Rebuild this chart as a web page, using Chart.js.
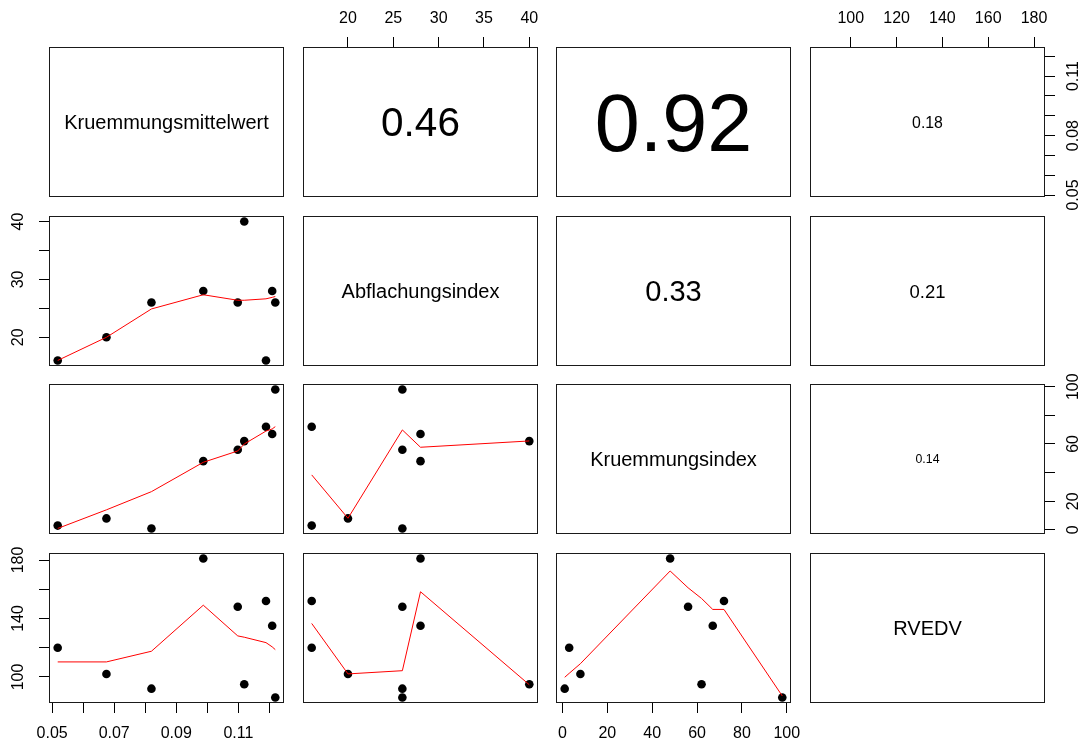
<!DOCTYPE html>
<html><head><meta charset="utf-8">
<script src="https://cdn.jsdelivr.net/npm/chart.js@4"></script>
<style>
html,body{margin:0;padding:0;background:#fff;}
#wrap{position:relative;width:1089px;height:745px;overflow:hidden;background:#fff;}
#wrap canvas{position:absolute;left:0;top:0;}
</style></head><body><div id="wrap"></div>
<script>
// ---- data ----
const variables = ['Kruemmungsmittelwert', 'Abflachungsindex', 'Kruemmungsindex', 'RVEDV'];
const kruemmungsmittelwert = [0.0518, 0.0675, 0.0820, 0.0987, 0.1098, 0.1119, 0.1189, 0.1209, 0.1219];
const abflachungsindex     = [16, 20, 26, 28, 26, 40, 16, 28, 26];
const kruemmungsindex      = [3, 8, 1, 48, 56, 62, 72, 67, 98];
const rvedv                = [120, 102, 92, 181, 148, 95, 152, 135, 86];

// correlation values shown in the upper panels (row, col order)
const corPairs  = [[0,1],[0,2],[0,3],[1,2],[1,3],[2,3]];
const corValues = [0.46, 0.92, 0.18, 0.33, 0.21, 0.14];

// smoother (red line) vertices
const smoothKrmX  = [0.0518, 0.0675, 0.0820, 0.0987, 0.1098, 0.1119, 0.1189, 0.1209, 0.1219];
const smoothAbflX = [16, 20, 26, 28, 40];
const smoothKriX  = [1, 3, 8, 48, 56, 62, 67, 72, 98];
const smoothAbflOnKrm = [16.0, 20.0, 24.9, 27.35, 26.4, 26.4, 26.65, 26.9, 27.05];
const smoothKriOnKrm  = [1.0, 14.0, 26.7, 47.2, 55.1, 60.0, 69.0, 70.5, 72.1];
const smoothRvOnKrm   = [110.3, 110.3, 117.6, 149.1, 128.1, 127.2, 123.5, 120.6, 118.7];
const smoothKriOnAbfl = [38.4, 8.1, 69.8, 57.7, 62.1];
const smoothRvOnAbfl  = [136.6, 102.1, 104.3, 158.3, 94.7];
const smoothRvOnKri   = [99.8, 102.5, 109.1, 172.5, 161.0, 153.7, 146.2, 146.2, 87.0];

// tick values and labels
const krmTicks  = [0.05, 0.06, 0.07, 0.08, 0.09, 0.10, 0.11, 0.12];
const krmBottomLabels = ['0.05', '', '0.07', '', '0.09', '', '0.11', ''];
const krmRightLabels  = ['0.05', '', '', '0.08', '', '', '0.11', ''];
const abflTicks = [20, 25, 30, 35, 40];
const abflTopLabels  = ['20', '25', '30', '35', '40'];
const abflLeftLabels = ['20', '', '30', '', '40'];
const kriTicks  = [0, 20, 40, 60, 80, 100];
const kriBottomLabels = ['0', '20', '40', '60', '80', '100'];
const kriRightLabels  = ['0', '20', '', '60', '', '100'];
const rvTicks   = [100, 120, 140, 160, 180];
const rvTopLabels  = ['100', '120', '140', '160', '180'];
const rvLeftLabels = ['100', '', '140', '', '180'];

// ---- assembly ----
const seriesList = [kruemmungsmittelwert, abflachungsindex, kruemmungsindex, rvedv];
const tickList   = [krmTicks, abflTicks, kriTicks, rvTicks];
const xLabelList = [krmBottomLabels, abflTopLabels, kriBottomLabels, rvTopLabels];
const yLabelList = [krmRightLabels, abflLeftLabels, kriRightLabels, rvLeftLabels];
const smoothX = [smoothKrmX, smoothAbflX, smoothKriX];
const smoothMap = {
  '1,0': smoothAbflOnKrm, '2,0': smoothKriOnKrm, '3,0': smoothRvOnKrm,
  '2,1': smoothKriOnAbfl, '3,1': smoothRvOnAbfl, '3,2': smoothRvOnKri
};

const W = 1089, H = 745;
const colLeft = [49, 303, 556, 810], rowTop = [47, 216, 384, 553];
const PW = 235, PH = 150, AX = 40, TL = 10;
const FONT = '"Liberation Sans", Arial, Helvetica, sans-serif';
Chart.defaults.font.family = FONT;
Chart.defaults.font.size = 16;
Chart.defaults.color = '#000';

const mctx = document.createElement('canvas').getContext('2d');
mctx.font = '16px ' + FONT;
const widest = labels => Math.max(...labels.map(l => mctx.measureText(l).width));

function limits(a) {
  const mn = Math.min(...a), mx = Math.max(...a), d = (mx - mn) * 0.04;
  return [mn - d, mx + d];
}

const decor = {
  id: 'decor',
  afterDraw(chart, args, o) {
    const {ctx, chartArea: a} = chart;
    ctx.save();
    ctx.strokeStyle = '#1a1a1a';
    ctx.lineWidth = 1;
    ctx.strokeRect(Math.round(a.left) + 0.5, Math.round(a.top) + 0.5,
                   Math.round(a.right - a.left) - 1, Math.round(a.bottom - a.top) - 1);
    if (o.text) {
      ctx.fillStyle = '#000';
      ctx.font = o.size + 'px ' + FONT;
      ctx.textAlign = 'center';
      ctx.textBaseline = 'alphabetic';
      ctx.fillText(o.text, (a.left + a.right) / 2, (a.top + a.bottom) / 2 + 0.358 * o.size);
    }
    ctx.restore();
  }
};

function axisCfg(isX, show, pos, ticks, labels, lim) {
  const cfg = {
    type: 'linear', display: show, position: pos, min: lim[0], max: lim[1],
    afterBuildTicks: s => { s.ticks = ticks.map(v => ({value: v})); },
    afterFit: s => { const sz = show ? AX : 0; if (isX) s.height = sz; else s.width = sz; },
    border: {display: false},
    grid: {display: show, drawOnChartArea: false, drawTicks: true, tickLength: TL, color: '#000', lineWidth: 1},
    ticks: {display: show, autoSkip: false, color: '#000', font: {size: 16, family: FONT},
            callback: (v, idx) => labels[idx]}
  };
  if (isX) {
    cfg.ticks.maxRotation = 0; cfg.ticks.minRotation = 0;
    cfg.ticks.padding = pos === 'top' ? 9 : 11;
  } else {
    cfg.ticks.minRotation = 90; cfg.ticks.maxRotation = 90;
    cfg.ticks.crossAlign = 'center';
    const w = widest(labels);
    cfg.ticks.padding = (pos === 'left' ? 30 : 29) - TL - w / 2;
  }
  return cfg;
}

const wrap = document.getElementById('wrap');
for (let i = 0; i < 4; i++) {
  for (let j = 0; j < 4; j++) {
    const cv = document.createElement('canvas');
    cv.width = W; cv.height = H;
    cv.style.width = W + 'px'; cv.style.height = H + 'px';
    wrap.appendChild(cv);
    const L = colLeft[j], T = rowTop[i];
    const xBottom = (j % 2 === 0 && i === 3), xTop = (j % 2 === 1 && i === 0);
    const yLeft = (i % 2 === 1 && j === 0), yRight = (i % 2 === 0 && j === 3);
    const padding = {
      left: L - (yLeft ? AX : 0),
      top: T - (xTop ? AX : 0),
      right: W - (L + PW) - (yRight ? AX : 0),
      bottom: H - (T + PH) - (xBottom ? AX : 0)
    };
    const datasets = [];
    if (i > j) {
      const sy = smoothMap[i + ',' + j];
      datasets.push({
        data: smoothX[j].map((x, k) => ({x, y: sy[k]})),
        showLine: true, borderColor: '#ff0000', borderWidth: 1, pointRadius: 0,
        fill: false, tension: 0
      });
      datasets.push({
        data: seriesList[j].map((x, k) => ({x, y: seriesList[i][k]})),
        showLine: false, backgroundColor: '#000', borderColor: '#000',
        pointRadius: 4.3, pointBorderWidth: 0, pointHoverRadius: 4.3
      });
    }
    let text = '', size = 20;
    if (i === j) { text = variables[i]; size = 20; }
    else if (i < j) {
      const k = corPairs.findIndex(p => p[0] === i && p[1] === j);
      text = corValues[k].toFixed(2);
      size = 88 * corValues[k];
    }
    new Chart(cv, {
      type: 'scatter',
      data: {datasets},
      options: {
        responsive: false, animation: false, events: [],
        layout: {padding},
        plugins: {legend: {display: false}, tooltip: {enabled: false}, decor: {text, size}},
        scales: {
          x: axisCfg(true, xBottom || xTop, xTop ? 'top' : 'bottom', tickList[j], xLabelList[j], limits(seriesList[j])),
          y: axisCfg(false, yLeft || yRight, yRight ? 'right' : 'left', tickList[i], yLabelList[i], limits(seriesList[i]))
        }
      },
      plugins: [decor]
    });
  }
}
</script>
</body></html>
